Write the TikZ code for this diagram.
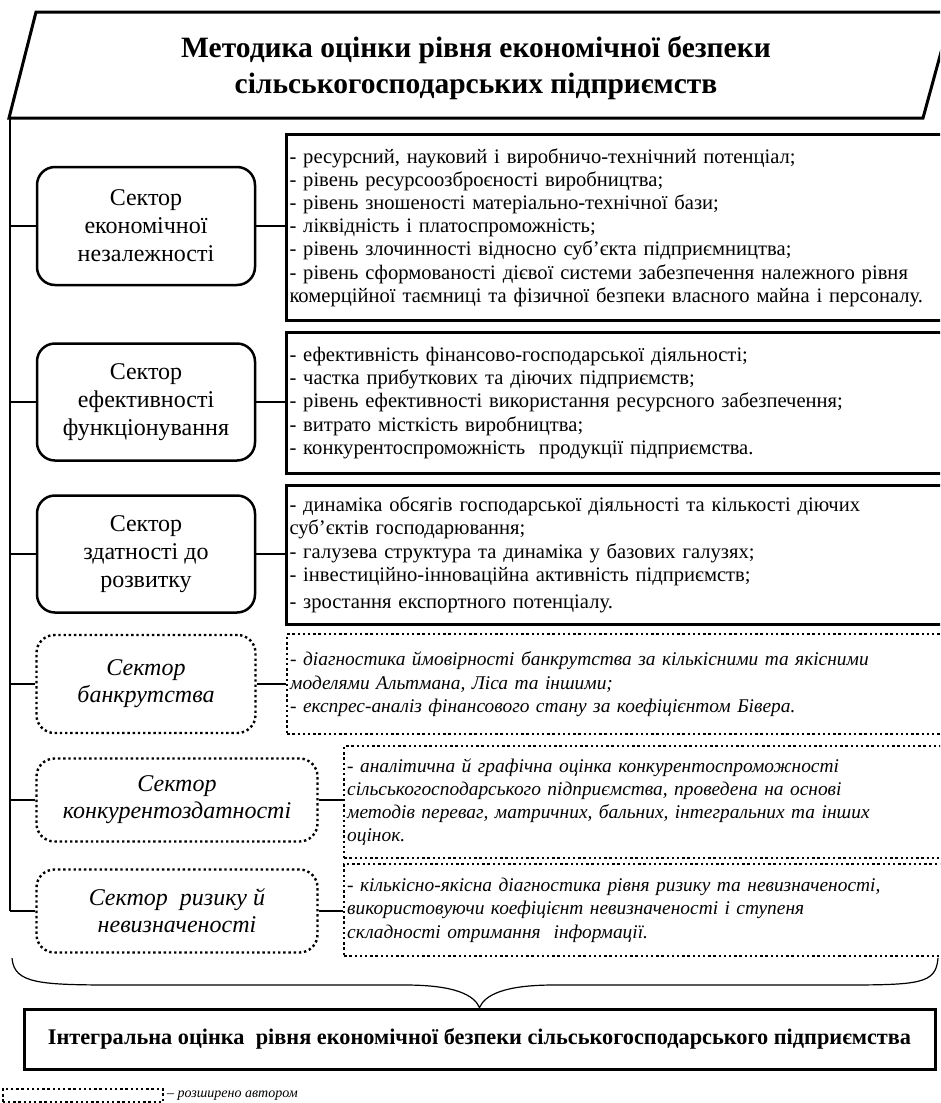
\documentclass[tikz,border=0pt]{standalone}
\usepackage{fontspec}
\setmainfont{Liberation Serif}
\usetikzlibrary{positioning}
\begin{document}
\begin{tikzpicture}[x=1pt,y=-1pt,
  conn/.style={line width=1.2pt},
  sector/.style={draw, line width=2.5pt, rounded corners=18pt, align=center, inner sep=0pt, font=\fontsize{24}{28}\selectfont},
  sectorx/.style={sector, line width=2.4pt, dash pattern=on 2.4pt off 2.8pt, font=\fontsize{24}{27}\selectfont\itshape},
  descr/.style={draw, line width=3pt, anchor=north west, align=left, inner xsep=3pt, inner ysep=0pt, text width=655pt, font=\fontsize{20.6}{23.2}\selectfont},
  descrx/.style={descr, line width=2.4pt, dash pattern=on 2.4pt off 2.8pt, font=\fontsize{19.4}{23.2}\selectfont\itshape}]
\clip (0,0) rectangle (940,1103);
% title
\draw[line width=3pt] (36,12) -- (952,12) -- (923,118) -- (9,118) -- cycle;
\node[align=center, font=\fontsize{29.5}{36}\selectfont\bfseries] (title) at (476,68) {Методика оцінки рівня економічної безпеки\\ сільськогосподарських підприємств};
\coordinate (trunktop) at (10,118);
\coordinate (trunkbot) at (10,911);
\draw[conn] (trunktop) -- (trunkbot);
% sectors
\node[sector, minimum width=218pt, minimum height=118pt] (s1) at (146,226) {Сектор\\ економічної\\ незалежності};
\node[sector, minimum width=218pt, minimum height=117pt] (s2) at (146,402) {Сектор\\ ефективності\\ функціонування};
\node[sector, minimum width=218pt, minimum height=117pt] (s3) at (146,554) {Сектор\\ здатності до\\ розвитку};
\node[sectorx, minimum width=219pt, minimum height=98pt] (s4) at (146,684) {Сектор\\ банкрутства};
\node[sectorx, minimum width=281pt, minimum height=83pt] (s5) at (177,800) {Сектор\\ конкурентоздатності};
\node[sectorx, minimum width=281pt, minimum height=83pt] (s6) at (177,911) {Сектор\ \ ризику й\\ невизначеності};
% descriptions
\node[descr, minimum height=186pt] (d1) at (285,133) {- ресурсний, науковий і виробничо-технічний потенціал;\\
- рівень ресурсоозброєності виробництва;\\
- рівень зношеності матеріально-технічної бази;\\
- ліквідність і платоспроможність;\\
- рівень злочинності відносно суб’єкта підприємництва;\\
- рівень сформованості дієвої системи забезпечення належного рівня\\
комерційної таємниці та фізичної безпеки власного майна і персоналу.\\[6pt]};
\node[descr, minimum height=141pt] (d2) at (285,331) {- ефективність фінансово-господарської діяльності;\\
- частка прибуткових та діючих підприємств;\\
- рівень ефективності використання ресурсного забезпечення;\\
- витрато місткість виробництва;\\
- конкурентоспроможність\ \ продукції підприємства.};
\node[descr, minimum height=139pt] (d3) at (285,484) {- динаміка обсягів господарської діяльності та кількості діючих\\
суб’єктів господарювання;\\
- галузева структура та динаміка у базових галузях;\\
- інвестиційно-інноваційна активність підприємств;\\[4pt]
- зростання експортного потенціалу.};
\node[descrx, minimum height=100pt] (d4) at (286,633) {- діагностика ймовірності банкрутства за кількісними та якісними\\
моделями Альтмана, Ліса та іншими;\\
- експрес-аналіз фінансового стану за коефіцієнтом Бівера.\\[4pt]};
\node[descrx, text width=598pt, minimum height=112pt] (d5) at (343,745) {- аналітична й графічна оцінка конкурентоспроможності\\
сільськогосподарського підприємства, проведена на основі\\
методів переваг, матричних, бальних, інтегральних та інших\\
оцінок.};
\node[descrx, text width=598pt, minimum height=92pt] (d6) at (343,863) {- кількісно-якісна діагностика рівня ризику та невизначеності,\\
використовуючи коефіцієнт невизначеності і ступеня\\
складності отримання\ \ інформації.};
\foreach \i in {1,...,6} {
  \draw[conn] (s\i.west -| trunktop) -- (s\i.west);
  \draw[conn] (s\i.east) -- (s\i.east -| d\i.west);
}
% integral
\node[draw, line width=3pt, minimum width=911pt, minimum height=60pt, font=\fontsize{22.3}{26}\selectfont\bfseries] (integ) at (479.5,1039) {Інтегральна оцінка\ \ рівня економічної безпеки сільськогосподарського підприємства};
\draw[conn] (12,958) .. controls (14,984) and (40,985) .. (120,985) -- (405,985) .. controls (455,985) and (474,995) .. (integ.north)
  .. controls (485,995) and (504,985) .. (554,985) -- (840,985) .. controls (920,985) and (936,984) .. (938,958);
% legend
\node[draw, line width=2.4pt, dash pattern=on 2.4pt off 2.8pt, minimum width=160pt, minimum height=13pt, inner sep=0pt, anchor=north west] (leg) at (1.5,1088) {};
\node[right=3pt of leg, inner sep=0pt, font=\fontsize{14}{16}\selectfont\itshape] (legt) {– розширено автором};
\end{tikzpicture}
\end{document}
